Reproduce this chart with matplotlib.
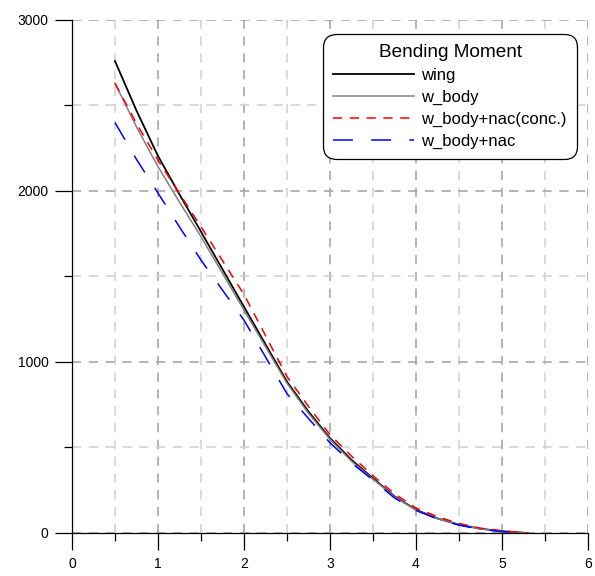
import numpy as np
from matplotlib import pyplot as plt
from matplotlib.ticker import MultipleLocator

plt.rcParams['font.family'] = ['Liberation Sans', 'DejaVu Sans']

# span positions
x = [0.5, 0.75, 1.0, 1.25, 1.5, 2.0, 2.5, 2.75, 3.0, 3.25, 3.5, 3.75, 4.0, 4.25, 4.5, 4.75, 5.0, 5.3]

wing = [2760, 2470, 2205, 1980, 1762, 1323, 885, 710, 555, 428, 320, 215, 136, 85, 49, 25, 10, 0]
w_body = [2630, 2375, 2142, 1935, 1733, 1304, 876, 700, 548, 420, 315, 212, 134, 84, 48, 24, 9, 0]
w_body_nac_conc = [2630, 2395, 2180, 1985, 1791, 1395, 915, 740, 575, 450, 335, 230, 146, 95, 56, 28, 13, 0]
w_body_nac = [2400, 2185, 1988, 1790, 1596, 1245, 815, 670, 528, 410, 310, 205, 132, 82, 46, 22, 8, 0]

labels = ['wing', 'w_body', 'w_body+nac(conc.)', 'w_body+nac']


def main():
    fig = plt.figure(figsize=(5.95, 5.76), dpi=100)
    ax = fig.add_axes([0.121, 0.0747, 0.867, 0.8906])

    ax.plot(x, wing, color='black', lw=1.3, label=labels[0])
    ax.plot(x, w_body, color='#808080', lw=1.1, label=labels[1])
    ax.plot(x, w_body_nac_conc, color='red', lw=1.1, dashes=(6, 5), label=labels[2])
    ax.plot(x, w_body_nac, color='blue', lw=1.1, dashes=(13, 12), label=labels[3])

    ax.set_xlim(0, 6)
    ax.set_ylim(0, 3000)
    ax.xaxis.set_major_locator(MultipleLocator(1))
    ax.xaxis.set_minor_locator(MultipleLocator(0.5))
    ax.yaxis.set_major_locator(MultipleLocator(1000))
    ax.yaxis.set_minor_locator(MultipleLocator(500))

    ax.grid(which='major', color='#a0a0a0', lw=1.1, dashes=(6, 5))
    ax.grid(which='minor', color='#d0d0d0', lw=1.1, dashes=(6, 5))
    ax.set_axisbelow(True)

    for s in ['top', 'right']:
        ax.spines[s].set_visible(False)
    for s in ['left', 'bottom']:
        ax.spines[s].set_linewidth(0.9)

    ax.tick_params(which='major', direction='out', length=12, width=0.9, labelsize=10, pad=5)
    ax.tick_params(which='minor', direction='out', length=6, width=0.9)

    leg = ax.legend(loc='upper right', bbox_to_anchor=(0.979, 0.973),
                    title='Bending Moment', fontsize=12, title_fontsize=13.7,
                    handlelength=4.85, handletextpad=0.45, labelspacing=0.42,
                    borderaxespad=0, fancybox=True, framealpha=1,
                    edgecolor='black', borderpad=0.6)
    frame = leg.get_frame()
    frame.set_linewidth(0.9)
    frame.set_boxstyle('round,pad=0,rounding_size=0.8')

    fig.savefig('out.png', dpi=100)


if __name__ == "__main__":
    main()
